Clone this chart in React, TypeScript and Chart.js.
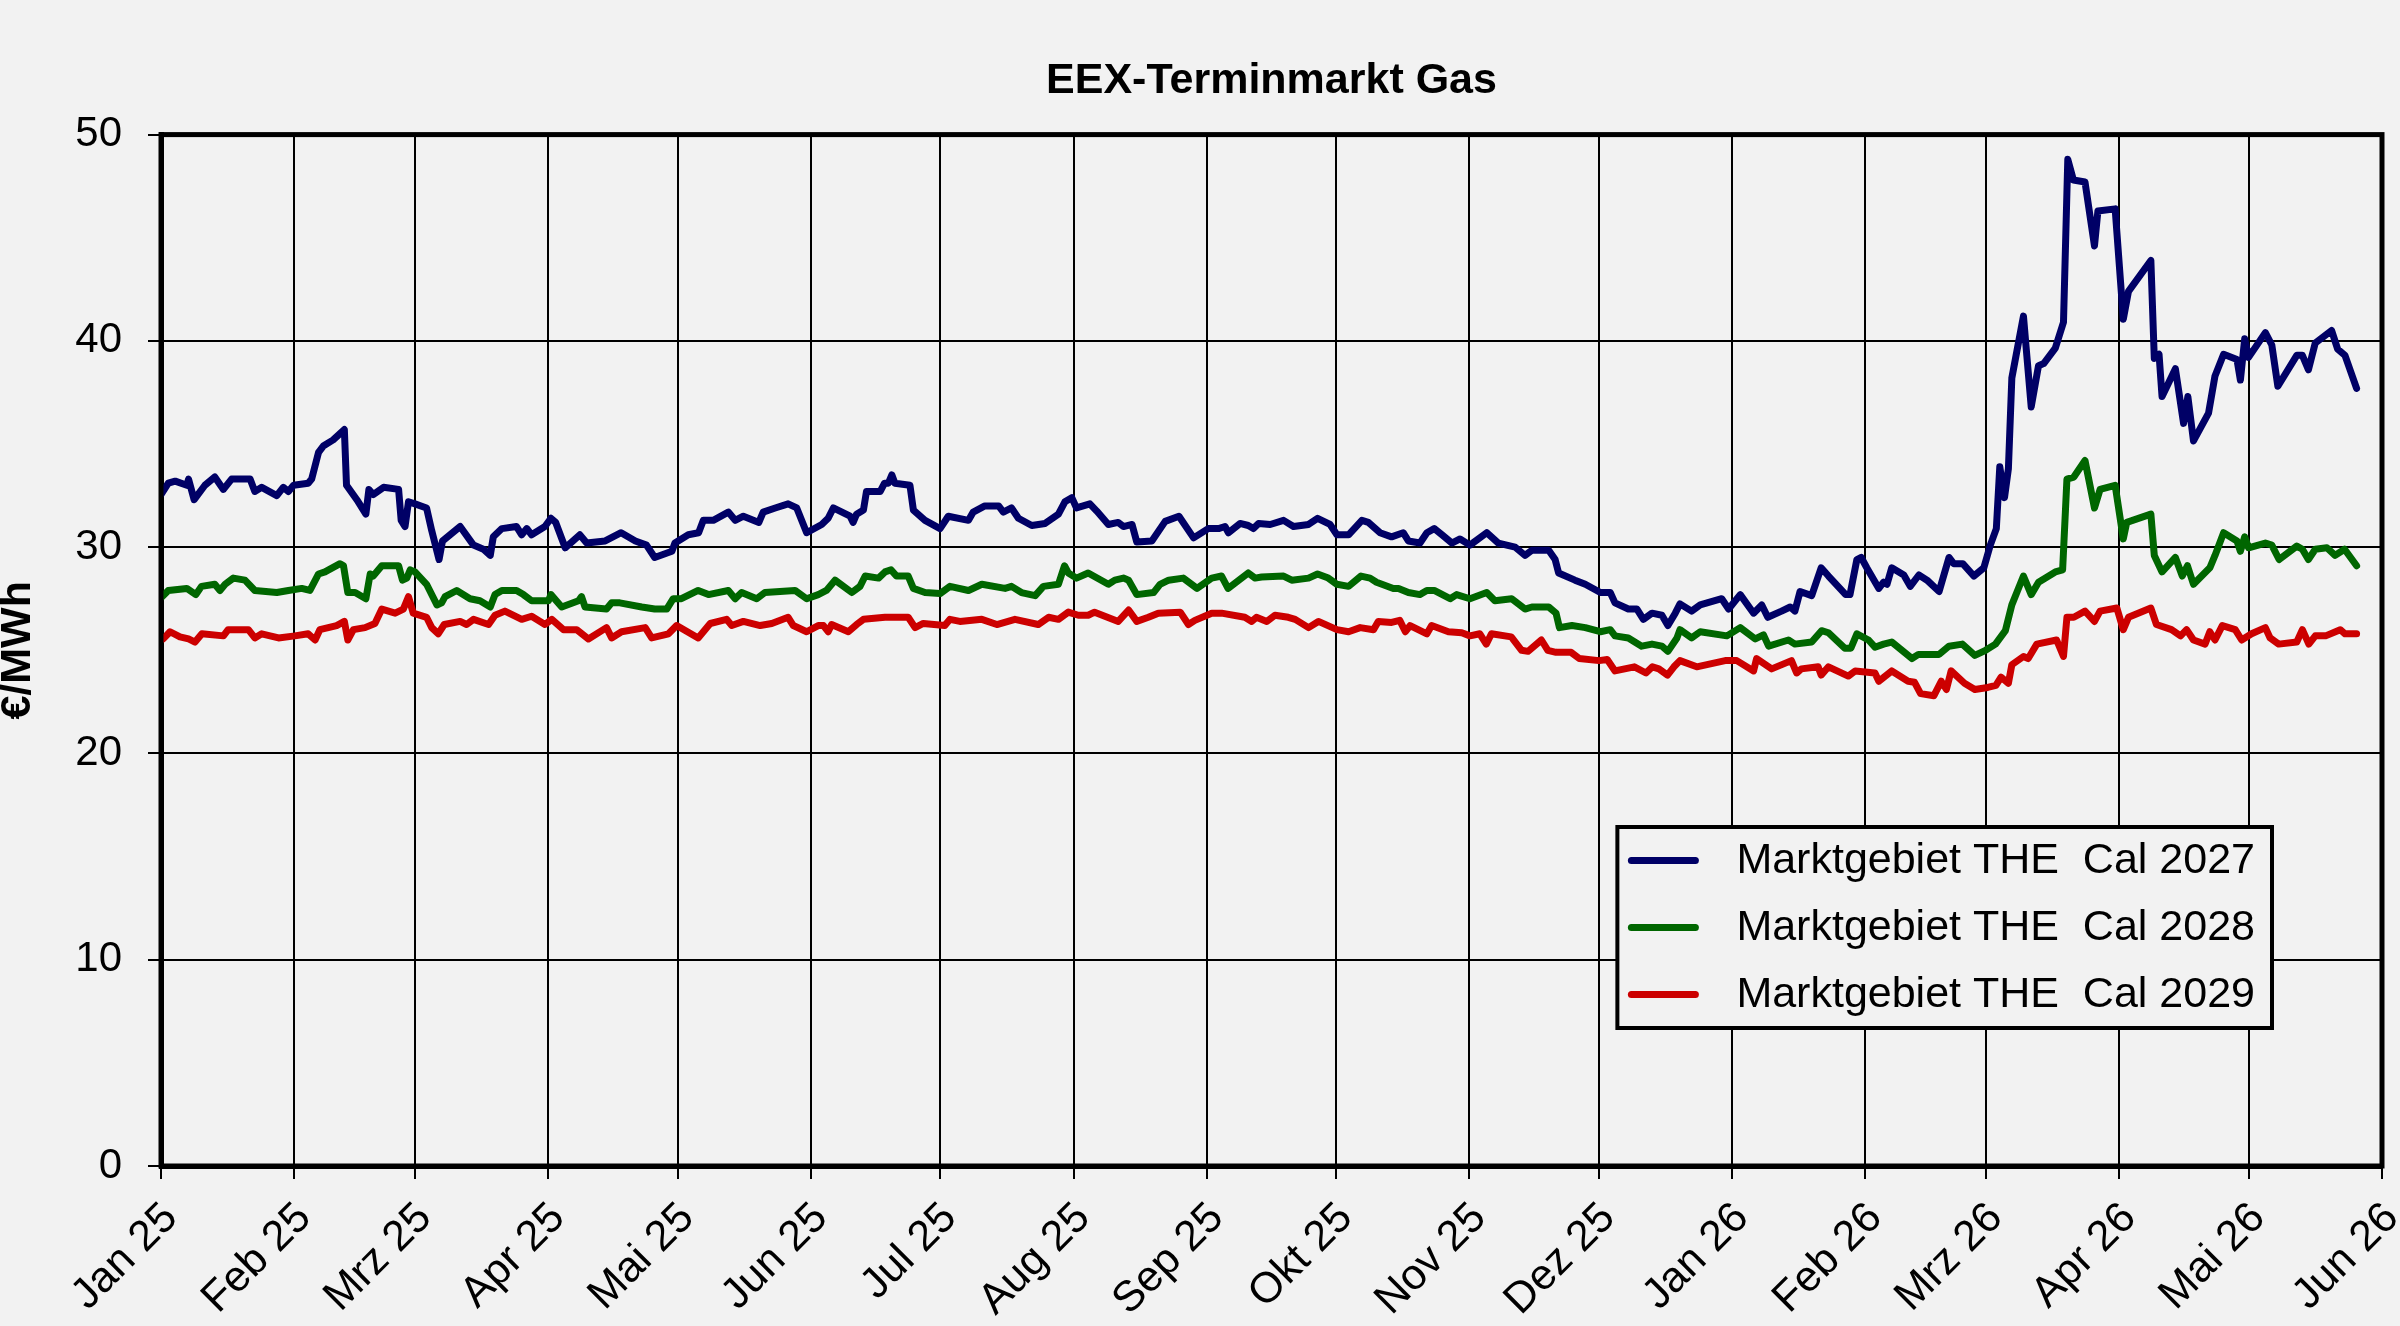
import React, { useEffect, useRef } from "react";
import { Chart, registerables } from "chart.js";

Chart.register(...registerables);

// x values are day offsets from 1 Jan 2025
const monthStartDays = [0, 31, 59, 90, 120, 151, 181, 212, 243, 273, 304, 334, 365, 396, 424, 455, 485, 516];
const monthLabels = ["Jan 25", "Feb 25", "Mrz 25", "Apr 25", "Mai 25", "Jun 25", "Jul 25", "Aug 25", "Sep 25", "Okt 25", "Nov 25", "Dez 25", "Jan 26", "Feb 26", "Mrz 26", "Apr 26", "Mai 26", "Jun 26"];
const yTicks = [0, 10, 20, 30, 40, 50];

const seriesLabels = ["Marktgebiet THE  Cal 2027", "Marktgebiet THE  Cal 2028", "Marktgebiet THE  Cal 2029"];
const seriesColors = ["#000066", "#006600", "#cc0000"];

const cal2027Days = [0, 1.7, 3.3, 6.0, 6.4, 7.7, 10.2, 12.5, 14.5, 16.4, 20.7, 21.8, 23.4, 26.9, 28.4, 29.6, 30.8, 34.2, 35.0, 36.6, 37.7, 40.0, 42.6, 43.1, 45.5, 47.6, 48.3, 49.3, 51.7, 55.2, 55.8, 56.7, 57.5, 59.0, 61.7, 62.9, 64.6, 65.4, 69.5, 72.6, 74.9, 76.5, 77.2, 79.2, 82.6, 83.8, 85.0, 86.1,
  89.2, 90.6, 91.7, 93.9, 97.3, 98.9, 103.2, 106.9, 110.2, 112.8, 114.7, 118.7, 119.4, 122.5, 124.9, 126.0, 128.3, 131.8, 133.4, 135.3, 138.9, 139.9, 142.7, 145.7, 147.7, 150.0, 153.5, 155.0, 156.2, 160.1, 160.8, 161.6, 163.2, 163.9, 167.1, 168.1, 169.0, 169.8, 170.5, 174.0, 174.8,
  177.5, 181.0, 182.9, 187.6, 188.7, 191.4, 194.6, 195.7, 197.6, 199.2, 202.3, 205.4, 208.5, 210.0, 211.6, 212.7, 215.8, 217.4, 220.1, 222.4, 223.6, 225.6, 226.7, 230.2, 233.3, 236.5, 239.9, 243.3, 245.7, 247.2, 248.0, 250.7, 252.6, 253.8, 255.0, 257.7, 260.8, 263.1,
  266.6, 268.7, 271.6, 273.2, 275.9, 279.0, 280.5, 283.2, 285.9, 288.6, 289.8, 292.5, 294.1, 295.8, 297.6, 299.9, 301.8, 304.1, 308.0, 310.7, 314.6, 316.9, 318.5, 322.4, 323.9, 324.7, 328.5, 330.9, 334.4, 336.7, 337.8, 340.9, 342.9, 344.4, 346.4, 348.7, 350.1, 351.8,
  352.9, 355.6, 357.6, 362.6, 364.2, 366.9, 370.0, 371.9, 373.3, 376.5, 378.5, 379.6, 380.8, 383.5, 385.7, 387.4, 391.4, 392.4, 394.0, 395.0, 396.3, 399.1, 400.2, 401.0, 402.1, 404.9, 406.4, 408.4, 410.3, 413.1, 415.4, 416.5, 418.6, 421.2, 423.5, 425.0, 426.4, 427.2, 428.3, 429.2, 430.0, 432.7, 434.5, 436.2, 437.4, 440.1,
  442.0, 443.0, 444.3, 447.0, 449.2, 450.0, 454.0, 455.9, 457.1, 462.3, 463.1, 464.2, 464.9, 468.0, 469.9, 470.9, 472.2, 475.7, 477.2, 479.2, 482.3, 483.1, 484.1, 485.0, 488.9, 490.4, 491.8, 496.2, 497.5, 498.9, 500.5, 504.3, 505.7, 507.4, 510.1];
const cal2027Values = [32.55, 33.1, 33.2, 33.0, 33.3, 32.3, 33.0, 33.4, 32.8, 33.3, 33.3, 32.7, 32.9, 32.5, 32.9, 32.7, 33.0, 33.1, 33.3, 34.6, 34.9, 35.2, 35.7, 33.0, 32.3, 31.6, 32.8, 32.55, 32.9, 32.8, 31.3, 31.0, 32.2, 32.1, 31.9, 30.8, 29.4, 30.3, 31.0, 30.1, 29.9, 29.6, 30.5, 30.9, 31.0, 30.6, 30.9, 30.6,
  31.0, 31.4, 31.2, 29.97, 30.6, 30.2, 30.3, 30.7, 30.3, 30.1, 29.5, 29.8, 30.2, 30.6, 30.7, 31.3, 31.3, 31.7, 31.3, 31.5, 31.2, 31.7, 31.9, 32.1, 31.9, 30.7, 31.1, 31.4, 31.9, 31.5, 31.2, 31.6, 31.8, 32.7, 32.7, 33.1, 33.1, 33.5, 33.1, 33.0, 31.8,
  31.3, 30.9, 31.5, 31.3, 31.7, 32.0, 32.0, 31.7, 31.9, 31.4, 31.05, 31.15, 31.6, 32.2, 32.4, 31.9, 32.1, 31.75, 31.1, 31.2, 31.0, 31.1, 30.25, 30.3, 31.25, 31.5, 30.45, 30.9, 30.9, 31.0, 30.7, 31.15, 31.05, 30.9, 31.15, 31.1, 31.3, 31.0,
  31.1, 31.4, 31.1, 30.6, 30.6, 31.3, 31.2, 30.7, 30.5, 30.7, 30.3, 30.2, 30.7, 30.9, 30.6, 30.2, 30.4, 30.1, 30.7, 30.2, 30.0, 29.6, 29.85, 29.85, 29.4, 28.75, 28.4, 28.2, 27.8, 27.8, 27.3, 27.0, 27.0, 26.5, 26.8, 26.7, 26.2, 26.8,
  27.25, 26.9, 27.2, 27.5, 27.0, 27.7, 26.8, 27.2, 26.6, 26.9, 27.1, 26.9, 27.85, 27.65, 29.0, 28.6, 27.7, 27.7, 29.4, 29.5, 29.0, 28.0, 28.3, 28.2, 29.0, 28.65, 28.1, 28.65, 28.4, 27.85, 29.5, 29.2, 29.2, 28.6, 29.0, 30.1, 30.9, 33.9, 32.4, 33.8, 38.2, 41.2, 36.8, 38.8, 38.9, 39.65,
  40.9, 48.8, 47.8, 47.7, 44.6, 46.3, 46.4, 41.05, 42.4, 43.9, 39.15, 39.35, 37.3, 38.65, 36.0, 37.3, 35.15, 36.5, 38.3, 39.35, 39.1, 38.1, 40.1, 39.2, 40.4, 39.8, 37.8, 39.3, 39.3, 38.6, 39.9, 40.5, 39.6, 39.3, 37.7];

const cal2028Days = [0, 1.7, 6.0, 8.1, 9.4, 12.5, 13.7, 14.9, 16.8, 19.5, 21.8, 26.9, 29.6, 32.7, 34.6, 36.6, 38.1, 41.6, 42.4, 43.4, 45.1, 47.6, 48.6, 49.3, 51.3, 55.2, 56.1, 57.1, 57.9, 59.0, 61.7, 64.1, 65.2, 66.0, 68.7, 71.8, 74.1, 76.5, 77.6, 79.2, 82.6, 84.2, 86.1,
  90.0, 90.6, 93.1, 97.0, 97.7, 98.5, 103.5, 104.7, 106.6, 111.7, 114.7, 117.5, 119.0, 120.9, 124.8, 127.2, 131.8, 133.4, 134.9, 138.4, 140.3, 147.3, 150.0, 152.7, 154.6, 156.6, 160.5, 162.4, 163.6, 166.7, 168.2, 169.6, 170.9, 173.6, 174.8,
  177.5, 181.0, 183.3, 187.6, 190.7, 196.1, 197.6, 199.9, 203.1, 205.0, 208.5, 209.9, 210.8, 212.7, 215.4, 220.1, 221.6, 223.6, 224.8, 226.7, 230.6, 232.1, 234.1, 237.5, 240.7, 244.1, 246.4, 247.9, 252.6, 254.2, 255.7, 260.8, 262.7,
  266.6, 268.7, 271.2, 273.2, 275.9, 278.8, 280.9, 282.4, 286.3, 287.5, 289.8, 292.5, 294.1, 295.8, 299.5, 301.0, 304.1, 308.0, 309.9, 313.8, 316.9, 318.5, 322.4, 324.1, 324.9, 327.8, 330.9, 334.4, 336.7, 337.8, 340.9, 344.0, 346.4, 348.7, 350.1, 352.2,
  352.9, 355.6, 357.6, 363.8, 366.9, 370.4, 372.3, 373.5, 378.1, 379.6, 383.5, 385.8, 387.4, 391.2, 392.6, 394.0, 396.7, 398.2, 400.2, 402.1, 406.8, 408.3, 413.1, 415.4, 418.5, 421.4, 423.9, 426.2, 428.5, 430.0, 432.7, 434.5, 436.2, 440.1,
  441.8, 442.8, 444.4, 447.0, 449.2, 450.5, 454.0, 455.9, 456.7, 462.3, 463.1, 464.9, 468.0, 469.6, 470.8, 472.2, 476.0, 477.2, 479.2, 482.3, 483.1, 484.1, 485.0, 488.9, 490.4, 492.1, 496.2, 497.5, 498.9, 500.5, 503.2, 505.1, 507.3, 510.1];
const cal2028Values = [27.54, 27.9, 28.0, 27.7, 28.1, 28.2, 27.9, 28.2, 28.5, 28.4, 27.9, 27.8, 27.9, 28.0, 27.9, 28.7, 28.8, 29.2, 29.1, 27.8, 27.8, 27.5, 28.7, 28.6, 29.1, 29.1, 28.4, 28.5, 28.9, 28.8, 28.2, 27.2, 27.3, 27.6, 27.9, 27.5, 27.4, 27.1, 27.7, 27.9, 27.9, 27.7, 27.4,
  27.4, 27.7, 27.1, 27.4, 27.6, 27.1, 27.0, 27.3, 27.3, 27.1, 27.0, 27.0, 27.5, 27.5, 27.9, 27.7, 27.9, 27.5, 27.8, 27.5, 27.8, 27.9, 27.5, 27.7, 27.9, 28.4, 27.8, 28.1, 28.6, 28.5, 28.8, 28.9, 28.6, 28.6, 28.0,
  27.8, 27.75, 28.1, 27.9, 28.2, 28.0, 28.1, 27.8, 27.65, 28.1, 28.2, 29.1, 28.75, 28.5, 28.75, 28.2, 28.4, 28.5, 28.4, 27.7, 27.8, 28.2, 28.4, 28.5, 28.0, 28.5, 28.6, 28.0, 28.75, 28.5, 28.55, 28.6, 28.4,
  28.5, 28.7, 28.5, 28.2, 28.1, 28.6, 28.5, 28.3, 28.0, 28.0, 27.8, 27.7, 27.9, 27.9, 27.5, 27.7, 27.5, 27.8, 27.4, 27.5, 27.0, 27.1, 27.1, 26.8, 26.1, 26.2, 26.1, 25.9, 26.0, 25.7, 25.6, 25.2, 25.3, 25.2, 24.95, 25.6,
  26.0, 25.6, 25.9, 25.7, 26.1, 25.55, 25.75, 25.2, 25.5, 25.3, 25.4, 25.95, 25.85, 25.1, 25.1, 25.8, 25.5, 25.15, 25.3, 25.4, 24.6, 24.8, 24.8, 25.2, 25.3, 24.75, 25.0, 25.3, 25.95, 27.2, 28.6, 27.7, 28.3, 28.8,
  28.9, 33.3, 33.4, 34.2, 31.9, 32.8, 33.0, 30.4, 31.2, 31.6, 29.6, 28.8, 29.5, 28.6, 29.1, 28.2, 29.0, 29.6, 30.7, 30.3, 29.8, 30.5, 29.97, 30.2, 30.1, 29.4, 30.05, 29.9, 29.4, 29.9, 29.97, 29.6, 29.9, 29.1];

const cal2029Days = [0.5, 2.1, 4.4, 6.4, 7.9, 9.5, 14.5, 15.6, 20.3, 21.8, 23.4, 27.3, 31.1, 34.2, 35.8, 36.9, 40.8, 42.6, 43.4, 44.7, 47.4, 49.7, 51.3, 54.4, 56.3, 57.5, 58.6, 61.7, 62.9, 64.4, 65.8, 69.5, 71.0, 72.6, 76.1, 77.6, 79.9, 83.8, 86.1,
  89.2, 90.8, 93.5, 96.6, 99.3, 103.5, 104.7, 107.0, 112.5, 114.0, 117.9, 119.8, 124.8, 127.6, 131.4, 132.6, 135.3, 139.2, 141.9, 145.7, 146.9, 150.0, 152.7, 153.9, 155.0, 155.8, 159.7, 161.6, 163.2, 168.2, 173.6, 175.2, 177.1,
  182.1, 183.3, 185.6, 190.7, 194.2, 198.4, 203.8, 206.2, 208.5, 210.8, 213.1, 215.4, 216.9, 222.4, 224.8, 226.7, 229.4, 231.7, 236.8, 238.7, 240.2, 244.1, 246.4, 251.8, 253.4, 254.5, 256.9, 258.8, 261.9,
  263.5, 266.6, 268.9, 273.2, 275.9, 278.6, 281.7, 282.8, 285.9, 287.8, 289.1, 290.2, 294.1, 295.2, 299.1, 302.2, 304.1, 306.4, 307.9, 309.1, 313.7, 316.1, 317.6, 320.7, 322.2, 324.1, 327.6, 329.5, 334.1, 336.0, 337.8, 342.3, 345.0, 346.5, 348.0, 350.0, 351.5,
  352.9, 356.8, 363.4, 366.1, 370.0, 370.7, 374.2, 378.8, 380.0, 381.1, 385.0, 385.7, 387.4, 392.0, 393.6, 398.2, 399.1, 402.1, 405.9, 407.4, 408.8, 411.9, 413.6, 414.8, 415.9, 419.0, 421.4, 424.4, 426.3, 427.5, 429.2, 430.0, 432.7, 433.8, 435.8, 440.4,
  442.0, 442.8, 444.4, 447.0, 449.2, 450.5, 454.4, 455.9, 457.1, 462.3, 463.6, 467.1, 469.2, 470.6, 472.2, 474.9, 476.0, 477.2, 478.9, 481.9, 483.4, 485.7, 488.9, 490.0, 492.0, 496.2, 497.5, 499.0, 500.5, 502.9, 506.3, 507.4, 510.1];
const cal2029Values = [25.55, 25.9, 25.65, 25.55, 25.4, 25.8, 25.7, 26.0, 26.0, 25.6, 25.8, 25.6, 25.7, 25.8, 25.5, 26.0, 26.2, 26.4, 25.5, 26.0, 26.1, 26.3, 27.0, 26.8, 27.0, 27.6, 26.8, 26.6, 26.1, 25.8, 26.25, 26.4, 26.25, 26.5, 26.25, 26.7, 26.9, 26.5, 26.65,
  26.25, 26.5, 26.0, 26.0, 25.55, 26.1, 25.6, 25.9, 26.1, 25.6, 25.8, 26.2, 25.6, 26.3, 26.5, 26.2, 26.4, 26.2, 26.3, 26.6, 26.2, 25.9, 26.2, 26.2, 25.9, 26.25, 25.9, 26.25, 26.5, 26.6, 26.6, 26.1, 26.3,
  26.2, 26.5, 26.4, 26.5, 26.25, 26.5, 26.25, 26.6, 26.5, 26.85, 26.7, 26.7, 26.85, 26.4, 26.95, 26.4, 26.6, 26.8, 26.85, 26.25, 26.45, 26.8, 26.8, 26.6, 26.4, 26.6, 26.4, 26.7, 26.6,
  26.5, 26.1, 26.4, 26.0, 25.9, 26.1, 26.0, 26.4, 26.35, 26.45, 25.9, 26.2, 25.8, 26.2, 25.9, 25.85, 25.7, 25.8, 25.3, 25.8, 25.65, 25.0, 24.95, 25.5, 25.0, 24.9, 24.9, 24.6, 24.5, 24.55, 24.0, 24.2, 23.9, 24.2, 24.1, 23.8, 24.2,
  24.5, 24.2, 24.5, 24.5, 24.0, 24.6, 24.1, 24.5, 23.9, 24.1, 24.2, 23.8, 24.2, 23.75, 24.0, 23.9, 23.5, 24.0, 23.5, 23.45, 22.9, 22.8, 23.5, 23.1, 24.0, 23.4, 23.1, 23.2, 23.3, 23.7, 23.4, 24.3, 24.7, 24.6, 25.3, 25.5,
  24.7, 26.6, 26.6, 26.9, 26.4, 26.9, 27.05, 26.0, 26.6, 27.05, 26.25, 26.0, 25.7, 26.0, 25.5, 25.3, 25.9, 25.5, 26.2, 26.0, 25.5, 25.8, 26.1, 25.6, 25.3, 25.4, 26.0, 25.3, 25.7, 25.7, 26.0, 25.8, 25.8];

const FONT = '"Liberation Sans", Arial, sans-serif';
const BG = "#f2f2f2";

function toPoints(days: number[], values: number[]) {
  return days.map((d, i) => ({ x: d, y: values[i] }));
}

const backgroundPlugin = {
  id: "bgFill",
  beforeDraw(chart: any) {
    const ctx = chart.ctx;
    ctx.save();
    ctx.fillStyle = BG;
    ctx.fillRect(0, 0, chart.width, chart.height);
    ctx.restore();
  },
};

const framePlugin = {
  id: "plotFrame",
  afterDatasetsDraw(chart: any) {
    const { ctx, chartArea } = chart;
    ctx.save();
    ctx.strokeStyle = "#000";
    ctx.lineWidth = 5;
    ctx.strokeRect(chartArea.left, chartArea.top, chartArea.right - chartArea.left, chartArea.bottom - chartArea.top);
    ctx.restore();
  },
};

const boxLegendPlugin = {
  id: "boxLegend",
  afterDraw(chart: any) {
    const { ctx, chartArea } = chart;
    const datasets = chart.data.datasets;
    ctx.save();
    ctx.font = `43px ${FONT}`;
    let maxW = 0;
    datasets.forEach((ds: any) => {
      maxW = Math.max(maxW, ctx.measureText(ds.label).width);
    });
    const rowH = 67;
    const textLeft = 119;
    const w = textLeft + maxW + 17;
    const h = rowH * datasets.length;
    const right = chartArea.right - 110;
    const bottom = chartArea.bottom - 138;
    const left = right - w;
    const top = bottom - h;
    ctx.fillStyle = BG;
    ctx.fillRect(left, top, w, h);
    ctx.strokeStyle = "#000";
    ctx.lineWidth = 4;
    ctx.strokeRect(left, top, w, h);
    datasets.forEach((ds: any, i: number) => {
      const cy = top + rowH * i + rowH / 2;
      ctx.strokeStyle = ds.borderColor;
      ctx.lineWidth = 7;
      ctx.lineCap = "round";
      ctx.beginPath();
      ctx.moveTo(left + 14, cy);
      ctx.lineTo(left + 78, cy);
      ctx.stroke();
      ctx.fillStyle = "#000";
      ctx.textBaseline = "middle";
      ctx.textAlign = "left";
      ctx.fillText(ds.label, left + textLeft, cy + 1);
    });
    ctx.restore();
  },
};

export default function App() {
  const canvasRef = useRef<HTMLCanvasElement | null>(null);

  useEffect(() => {
    document.body.style.margin = "0";
    document.body.style.overflow = "hidden";
    document.body.style.background = BG;
    const canvas = canvasRef.current;
    if (!canvas) return;
    const series = [
      toPoints(cal2027Days, cal2027Values),
      toPoints(cal2028Days, cal2028Values),
      toPoints(cal2029Days, cal2029Values),
    ];
    const chart = new Chart(canvas, {
      type: "line",
      data: {
        datasets: series.map((pts, i) => ({
          label: seriesLabels[i],
          data: pts,
          borderColor: seriesColors[i],
          backgroundColor: seriesColors[i],
          borderWidth: 7,
          pointRadius: 0,
          tension: 0,
          fill: false,
          borderJoinStyle: "round" as const,
          borderCapStyle: "round" as const,
        })),
      },
      options: {
        animation: false,
        responsive: false,
        devicePixelRatio: 1,
        layout: { padding: { left: 0, right: 18, top: 0, bottom: 0 } },
        plugins: {
          legend: { display: false },
          tooltip: { enabled: false },
          title: {
            display: true,
            text: "EEX-Terminmarkt Gas",
            color: "#000",
            fullSize: false,
            font: { family: FONT, size: 43, weight: "bold", lineHeight: 1.2 },
            padding: { top: 55, bottom: 28 },
          },
        },
        scales: {
          x: {
            type: "linear",
            min: monthStartDays[0],
            max: monthStartDays[monthStartDays.length - 1],
            afterBuildTicks: (scale: any) => {
              scale.ticks = monthStartDays.map((v) => ({ value: v }));
            },
            afterFit: (scale: any) => {
              scale.height = 160;
              scale.paddingLeft = 0;
              scale.paddingRight = 0;
            },
            ticks: {
              autoSkip: false,
              minRotation: 45,
              maxRotation: 45,
              color: "#000",
              padding: 14,
              labelOffset: 10,
              font: { family: FONT, size: 43 },
              callback: (_v: any, i: number) => monthLabels[i],
            },
            grid: { color: "#000", lineWidth: 2, tickLength: 13, drawTicks: true },
            border: { color: "#000", width: 5 },
          },
          y: {
            min: yTicks[0],
            max: yTicks[yTicks.length - 1],
            afterBuildTicks: (scale: any) => {
              scale.ticks = yTicks.map((v) => ({ value: v }));
            },
            afterFit: (scale: any) => {
              scale.width = 161;
            },
            ticks: {
              color: "#000",
              padding: 26,
              font: { family: FONT, size: 42 },
            },
            grid: { color: "#000", lineWidth: 2, tickLength: 13, drawTicks: true },
            border: { color: "#000", width: 5 },
            title: {
              display: true,
              text: "€/MWh",
              color: "#000",
              padding: 0,
              font: { family: FONT, size: 43, weight: "bold", lineHeight: 0.85 },
            },
          },
        },
      },
      plugins: [backgroundPlugin, framePlugin, boxLegendPlugin],
    } as any);
    return () => {
      chart.destroy();
    };
  }, []);

  return (
    <div style={{ width: 2400, height: 1326, background: BG }}>
      <canvas ref={canvasRef} width={2400} height={1326} style={{ display: "block", width: 2400, height: 1326 }} />
    </div>
  );
}
